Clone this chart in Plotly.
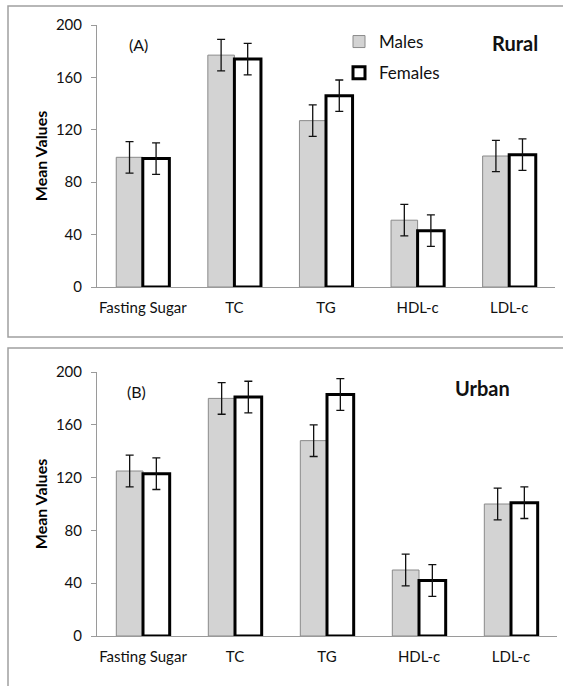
import plotly.graph_objects as go

categories = ["Fasting Sugar", "TC", "TG", "HDL-c", "LDL-c"]
rural_males = [99, 177, 127, 51, 100]
rural_females = [98, 174, 146, 43, 101]
rural_males_err = [12, 12, 12, 12, 12]
rural_females_err = [12, 12, 12, 12, 12]
urban_males = [125, 180, 148, 50, 100]
urban_females = [123, 181, 183, 42, 101]
urban_males_err = [12, 12, 12, 12, 12]
urban_females_err = [12, 12, 12, 12, 12]
y_ticks = [0, 40, 80, 120, 160, 200]

W, H = 563, 686
FONT = "Lato, Open Sans, sans-serif"
MALE_FILL = "#d3d3d3"
MALE_LINE = "#8a8a8a"

def px_x(p):
    return p / W

def px_y(p):
    return 1 - p / H

fig = go.Figure()

def add_panel(males, females, merr, ferr, xa, ya, show_legend):
    fig.add_trace(go.Bar(
        x=categories, y=males, name="Males", xaxis=xa, yaxis=ya,
        marker=dict(color=MALE_FILL, line=dict(color=MALE_LINE, width=1)),
        error_y=dict(type="data", array=merr, color="#111111", thickness=1.3, width=4),
        showlegend=show_legend, legendgroup="m",
    ))
    fig.add_trace(go.Bar(
        x=categories, y=females, name="Females", xaxis=xa, yaxis=ya,
        marker=dict(color="white", line=dict(color="black", width=3)),
        error_y=dict(type="data", array=ferr, color="#111111", thickness=1.3, width=4),
        showlegend=show_legend, legendgroup="f",
    ))

add_panel(rural_males, rural_females, rural_males_err, rural_females_err, "x", "y", True)
add_panel(urban_males, urban_females, urban_males_err, urban_females_err, "x2", "y2", False)

axis_common_x = dict(
    showline=True, linecolor="#9a9a9a", linewidth=1, ticks="",
    tickfont=dict(family=FONT, size=15, color="#111111"),
    ticklabelstandoff=7,
    showgrid=False, fixedrange=True, automargin=False,
)
axis_common_y = dict(
    range=[0, 200], tickvals=y_ticks, showline=True, linecolor="#9a9a9a", linewidth=1,
    ticks="outside", ticklen=5, tickcolor="#9a9a9a",
    tickfont=dict(family=FONT, size=15, color="#111111"),
    ticklabelstandoff=6,
    showgrid=False, zeroline=False, automargin=False,
    title=dict(text="<b>Mean Values</b>", standoff=4,
               font=dict(family=FONT, size=16, color="#000000")),
)

fig.update_layout(
    width=W, height=H,
    margin=dict(l=0, r=0, t=0, b=0, pad=0, autoexpand=False),
    paper_bgcolor="white", plot_bgcolor="white",
    barmode="group", bargap=0.42, bargroupgap=0.0,
    xaxis=dict(domain=[px_x(97), px_x(555)], anchor="y", **axis_common_x),
    yaxis=dict(domain=[px_y(287), px_y(25)], anchor="x", **axis_common_y),
    xaxis2=dict(domain=[px_x(97), px_x(557)], anchor="y2", **axis_common_x),
    yaxis2=dict(domain=[px_y(636), px_y(372)], anchor="x2", **axis_common_y),
    legend=dict(
        x=px_x(339), y=px_y(24), xanchor="left", yanchor="top",
        font=dict(family=FONT, size=17, color="#111111"),
        bgcolor="rgba(0,0,0,0)", tracegroupgap=6, traceorder="grouped",
    ),
    showlegend=True,
)

fig.add_shape(type="rect", xref="paper", yref="paper",
              x0=px_x(8), x1=1.02, y0=px_y(337), y1=px_y(6),
              line=dict(color="#a0a0a0", width=1.5), fillcolor="rgba(0,0,0,0)", layer="below")
fig.add_shape(type="rect", xref="paper", yref="paper",
              x0=px_x(8), x1=1.02, y0=-0.02, y1=px_y(348),
              line=dict(color="#a0a0a0", width=1.5), fillcolor="rgba(0,0,0,0)", layer="below")

def label(text, x, y, size):
    fig.add_annotation(text=text, xref="paper", yref="paper", x=px_x(x), y=px_y(y),
                       xanchor="center", yanchor="middle", showarrow=False,
                       font=dict(family=FONT, size=size, color="#111111"))

label("(A)", 138, 45, 16)
label("<b>Rural</b>", 515, 43, 20)
label("(B)", 136, 391, 16)
label("<b>Urban</b>", 482, 388, 20)

fig.write_html("out.html", post_script="document.body.style.margin='0px';",
               config={"displayModeBar": False})
